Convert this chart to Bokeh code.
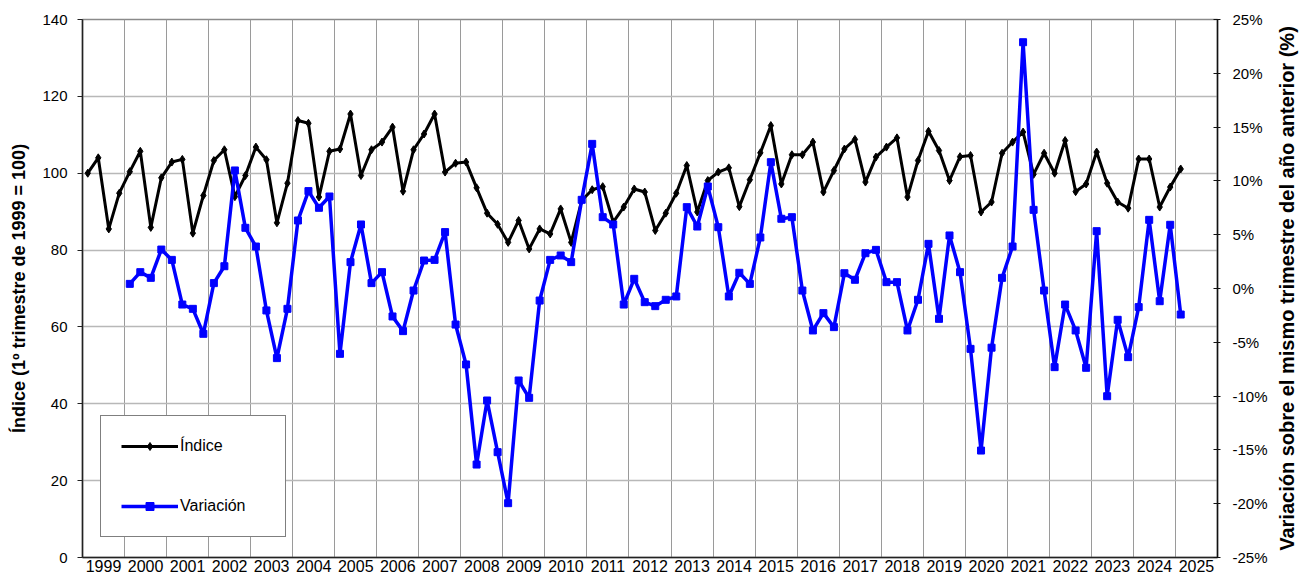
from bokeh.plotting import figure
from bokeh.layouts import row
from bokeh.models import (LinearAxis, Range1d, FixedTicker, CustomJSTickFormatter,
                          Legend, LegendItem, Title)
from bokeh.embed import file_html
from bokeh.resources import INLINE

# ---- data ----
years = list(range(1999, 2026))  # year labels on the x axis

# Índice (1º trimestre de 1999 = 100), quarterly 1999T1 .. 2025T1
indice = [
    100.0, 104.0, 85.5, 94.8,     # 1999
    100.4, 105.7, 85.9, 98.8,     # 2000
    102.9, 103.6, 84.4, 94.2,     # 2001
    103.3, 106.1, 93.9, 99.4,     # 2002
    106.8, 103.5, 87.1, 97.4,     # 2003
    113.7, 113.0, 93.8, 105.7,    # 2004
    106.3, 115.4, 99.4, 106.1,    # 2005
    108.1, 112.0, 95.3, 106.1,    # 2006
    110.2, 115.4, 100.3, 102.6,   # 2007
    102.9, 96.2, 89.6, 86.7,      # 2008
    82.0, 87.7, 80.3, 85.5,       # 2009
    84.2, 90.7, 82.0, 92.9,       # 2010
    95.7, 96.5, 87.3, 91.2,       # 2011
    95.9, 95.1, 85.1, 89.6,       # 2012
    94.8, 102.0, 89.9, 98.1,      # 2013
    100.3, 101.4, 91.3, 98.3,     # 2014
    105.3, 112.4, 97.2, 104.8,    # 2015
    104.8, 108.1, 95.1, 100.7,    # 2016
    106.3, 108.8, 97.7, 104.2,    # 2017
    106.8, 109.2, 93.8, 103.3,    # 2018
    110.9, 105.9, 98.1, 104.3,    # 2019
    104.6, 89.9, 92.5, 105.2,     # 2020
    108.1, 110.7, 99.7, 105.2,    # 2021
    100.0, 108.5, 95.2, 97.2,     # 2022
    105.5, 97.4, 92.5, 90.9,      # 2023
    103.7, 103.7, 91.2, 96.4,     # 2024
    101.1,                        # 2025
]

# Variación sobre el mismo trimestre del año anterior (%), 2000T1 .. 2025T1
variacion = [
    0.43, 1.52, 0.99, 3.62,       # 2000
    2.66, -1.49, -1.89, -4.21,    # 2001
    0.50, 2.07, 10.97, 5.64,      # 2002
    3.90, -2.04, -6.47, -1.89,    # 2003
    6.32, 9.05, 7.50, 8.55,       # 2004
    -6.07, 2.45, 5.95, 0.50,      # 2005
    1.52, -2.60, -3.96, -0.19,    # 2006
    2.60, 2.66, 5.24, -3.35,      # 2007
    -7.06, -16.36, -10.41, -15.21,  # 2008
    -19.95, -8.55, -10.16, -1.12,   # 2009
    2.66, 3.07, 2.45, 8.24,       # 2010
    13.44, 6.63, 5.95, -1.49,     # 2011
    0.90, -1.27, -1.64, -1.05,    # 2012
    -0.74, 7.56, 5.76, 9.48,      # 2013
    5.70, -0.74, 1.46, 0.43,      # 2014
    4.74, 11.74, 6.48, 6.63,      # 2015
    -0.19, -3.90, -2.29, -3.59,   # 2016
    1.42, 0.81, 3.28, 3.59,       # 2017
    0.59, 0.59, -3.90, -1.05,     # 2018
    4.15, -2.82, 4.93, 1.52,      # 2019
    -5.61, -15.06, -5.50, 0.99,   # 2020
    3.90, 22.89, 7.31, -0.19,     # 2021
    -7.31, -1.49, -3.90, -7.37,   # 2022
    5.33, -10.01, -2.91, -6.38,   # 2023
    -1.73, 6.38, -1.18, 5.92,     # 2024
    -2.42,                        # 2025
]

left_ticks = [0, 20, 40, 60, 80, 100, 120, 140]
right_ticks = [-25, -20, -15, -10, -5, 0, 5, 10, 15, 20, 25]
left_title = "Índice (1º trimestre de 1999 = 100)"
right_title = "Variación sobre el mismo trimestre del año anterior (%)"

# quarter positions (centre of each quarter within its year)
x_ind = [years[0] + (k + 0.5) / 4 for k in range(len(indice))]
x_var = x_ind[len(indice) - len(variacion):]

FONT = "Liberation Sans"
W_TITLE = 28

p = figure(width=1301 - W_TITLE, height=577, output_backend="svg", toolbar_location=None,
           x_range=Range1d(years[0], years[-1] + 1), y_range=Range1d(0, 140),
           min_border_left=82, min_border_right=56, min_border_top=19,
           min_border_bottom=20)
p.extra_y_ranges = {"pct": Range1d(-25, 25)}
p.background_fill_color = "white"
p.border_fill_color = "white"
p.outline_line_color = "#8a8a8a"
p.outline_line_width = 1.5

# x axis: labels centred in each year, grid lines at year boundaries
p.xaxis.ticker = FixedTicker(ticks=[y + 0.5 for y in years])
p.xaxis.formatter = CustomJSTickFormatter(code="return Math.floor(tick).toString();")
p.xaxis.major_tick_line_color = None
p.xaxis.major_tick_out = 0
p.xaxis.major_tick_in = 0
p.xaxis.minor_tick_line_color = None
p.xaxis.axis_line_color = "#222222"
p.xaxis.axis_line_width = 1.5
p.xaxis.major_label_text_font = FONT
p.xaxis.major_label_text_font_size = "16px"
p.xaxis.major_label_text_color = "black"
p.xaxis.major_label_standoff = 2
p.xgrid.ticker = FixedTicker(ticks=years[1:])
p.xgrid.grid_line_color = "#9a9a9a"
p.xgrid.grid_line_width = 1

# left axis
p.yaxis.ticker = FixedTicker(ticks=left_ticks)
p.yaxis.axis_label = left_title
p.yaxis.axis_label_text_font = FONT
p.yaxis.axis_label_text_font_size = "18px"
p.yaxis.axis_label_text_font_style = "bold"
p.yaxis.axis_label_text_color = "black"
p.yaxis.axis_label_standoff = 10
p.yaxis.major_label_text_font = FONT
p.yaxis.major_label_text_font_size = "15px"
p.yaxis.major_label_text_color = "black"
p.yaxis.major_label_standoff = 10
p.yaxis.major_tick_out = 5
p.yaxis.major_tick_in = 0
p.yaxis.minor_tick_line_color = None
p.yaxis.axis_line_color = "#222222"
p.yaxis.axis_line_width = 1.5
p.yaxis.major_tick_line_color = "#222222"
p.ygrid.grid_line_color = "#b8b8b8"
p.ygrid.grid_line_width = 1.5

# right axis
ra = LinearAxis(y_range_name="pct", ticker=FixedTicker(ticks=right_ticks),
                formatter=CustomJSTickFormatter(code="return tick.toFixed(0) + '%';"))
ra.major_label_text_font = FONT
ra.major_label_text_font_size = "15px"
ra.major_label_text_color = "black"
ra.major_label_standoff = 12
ra.major_tick_in = 4
ra.major_tick_out = 3
ra.minor_tick_line_color = None
ra.axis_line_color = "#111111"
ra.axis_line_width = 1.5
ra.major_tick_line_color = "#111111"
p.add_layout(ra, "right")

# series
l1 = p.line(x_ind, indice, line_color="black", line_width=3)
s1 = p.scatter(x_ind, indice, marker="diamond", size=8, color="black")
l2 = p.line(x_var, variacion, y_range_name="pct", line_color="#0000ff", line_width=3.5)
s2 = p.scatter(x_var, variacion, y_range_name="pct", marker="square", size=7,
               color="#0000ff")

legend = Legend(items=[LegendItem(label="Índice", renderers=[l1, s1]),
                       LegendItem(label="Variación", renderers=[l2, s2])],
                location=(18, 20), orientation="vertical")
legend.padding = 20
legend.spacing = 40
legend.margin = 0
legend.glyph_height = 20
legend.glyph_width = 57
legend.label_standoff = 2
legend.label_width = 85
legend.label_height = 20
legend.label_text_font = FONT
legend.label_text_font_size = "16px"
legend.label_text_color = "black"
legend.border_line_color = "black"
legend.border_line_width = 1
legend.background_fill_color = "white"
legend.background_fill_alpha = 1
p.add_layout(legend, "center")

# narrow companion figure carrying the right-hand title (reads bottom-to-top)
p2 = figure(width=W_TITLE, height=577, output_backend="svg", toolbar_location=None,
            x_axis_location=None, y_axis_location=None,
            min_border_left=0, min_border_right=0, min_border_top=19,
            min_border_bottom=20)
p2.outline_line_color = None
p2.grid.visible = False
p2.background_fill_color = "white"
p2.border_fill_color = "white"
p2.add_layout(Title(text=right_title, align="center", text_font=FONT,
                    text_font_size="20px", text_font_style="bold",
                    text_color="black", standoff=0, offset=0), "left")

layout = row(p, p2, spacing=0)
open("out.html", "w").write(file_html(layout, INLINE))
